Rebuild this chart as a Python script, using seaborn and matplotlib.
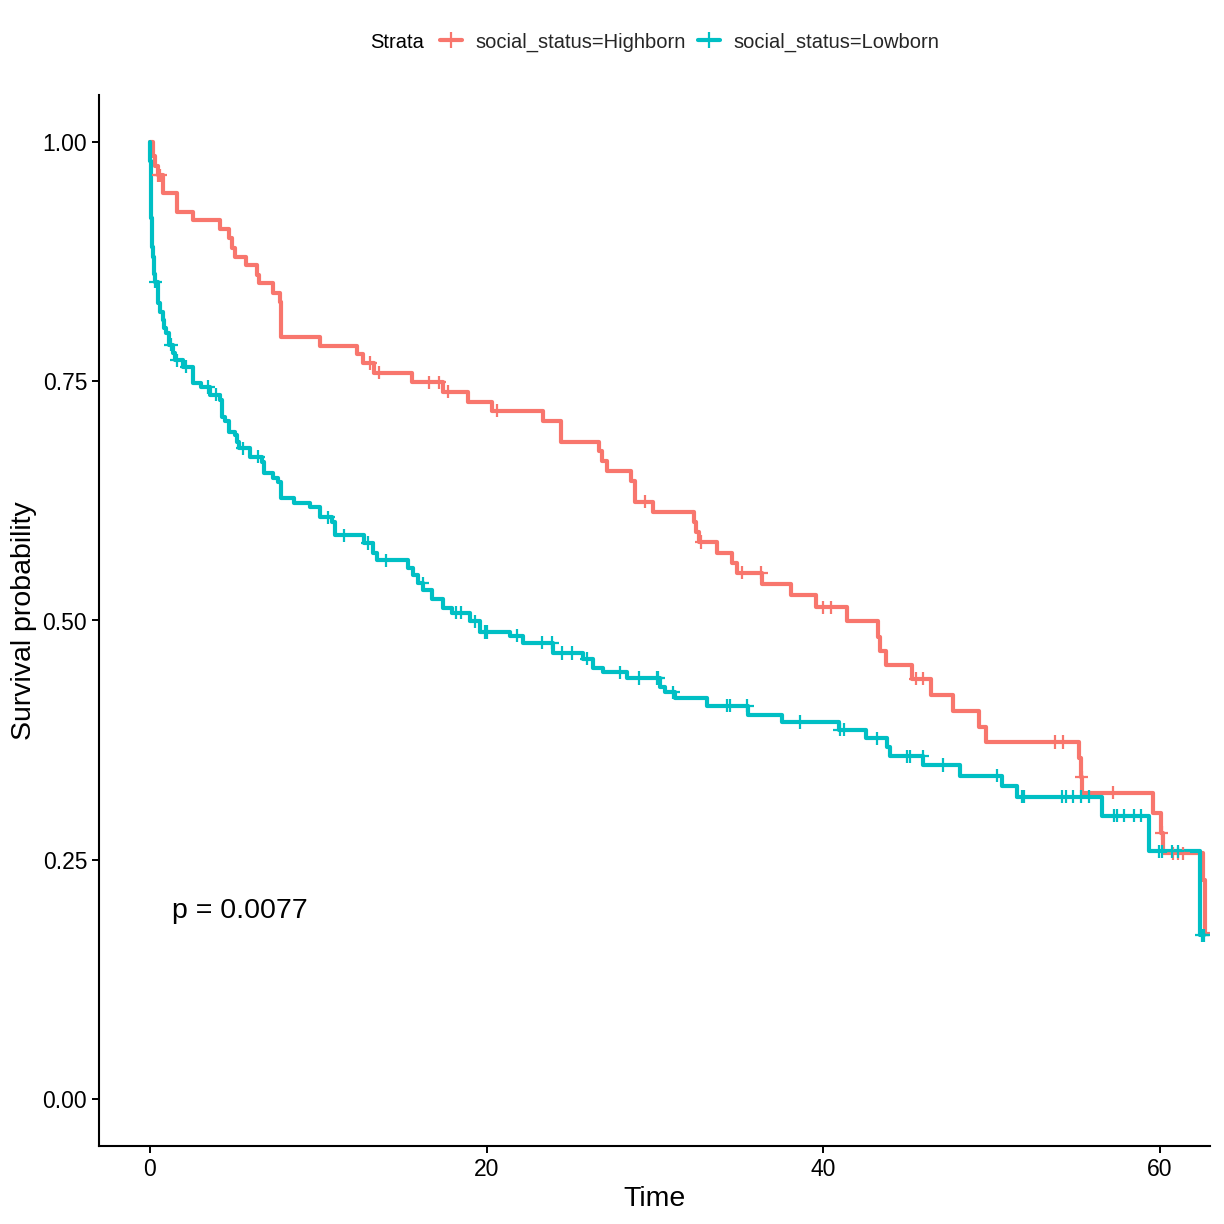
import numpy as np
import pandas as pd
import matplotlib
matplotlib.use("Agg")
import matplotlib.pyplot as plt
from matplotlib.lines import Line2D
import seaborn as sns

# ---------------- data ----------------
high_time = [0.0, 0.15, 0.3, 0.45, 0.75, 1.6, 2.55, 4.16, 4.7, 4.9, 5.05, 5.7, 6.35, 6.45,
             7.3, 7.7, 7.8, 10.1, 12.3, 12.65, 13.3, 15.55, 17.4, 18.9, 20.3, 23.35, 24.4,
             26.7, 26.85, 27.15, 28.6, 28.8, 29.9, 32.3, 32.45, 32.6, 33.7, 34.6, 34.9,
             36.35, 38.1, 39.6, 41.4, 43.25, 43.4, 43.7, 45.3, 46.4, 47.7, 49.25, 49.7,
             55.2, 55.3, 55.4, 59.6, 60.06, 60.2, 62.55, 62.7, 63.2]
high_surv = [1.0, 0.985, 0.975, 0.965, 0.947, 0.927, 0.918, 0.909, 0.900, 0.889, 0.880, 0.871,
             0.861, 0.853, 0.842, 0.833, 0.796, 0.787, 0.778, 0.769, 0.759, 0.749, 0.739,
             0.728, 0.719, 0.708, 0.687, 0.677, 0.667, 0.656, 0.646, 0.624, 0.613, 0.603,
             0.592, 0.582, 0.571, 0.560, 0.550, 0.538, 0.527, 0.514, 0.499, 0.483, 0.468,
             0.453, 0.439, 0.422, 0.405, 0.389, 0.373, 0.356, 0.336, 0.320, 0.299, 0.278,
             0.257, 0.229, 0.172, 0.172]
high_censor = [0.5, 0.6, 13.1, 13.6, 16.6, 17.2, 17.7, 20.6, 29.4, 32.75, 35.2, 36.3, 40.0,
               40.45, 45.5, 45.9, 53.8, 54.25, 55.35, 57.2, 60.1, 60.8, 61.1, 61.4]

low_time = [0.0, 0.02, 0.04, 0.06, 0.08, 0.1, 0.13, 0.17, 0.22, 0.26, 0.28, 0.45, 0.5, 0.6,
            0.77, 0.85, 0.95, 1.1, 1.15, 1.35, 1.5, 1.95, 2.55, 3.05, 3.55, 4.16, 4.28, 4.46,
            4.7, 5.05, 5.17, 5.29, 5.94, 6.65, 6.77, 7.3, 7.6, 7.78, 8.56, 9.5, 10.1, 10.8,
            10.99, 12.7, 13.25, 13.5, 15.3, 15.6, 15.9, 16.25, 16.75, 17.4, 17.95, 19.0,
            19.6, 21.4, 22.15, 23.95, 25.7, 26.3, 26.9, 28.35, 30.3, 30.6, 31.2, 33.1,
            35.55, 37.55, 40.95, 42.55, 43.8, 43.95, 45.95, 48.1, 50.6, 51.5, 56.55,
            59.35, 62.4, 62.65]
low_surv = [1.0, 0.98, 0.96, 0.94, 0.92, 0.905, 0.89, 0.88, 0.87, 0.862, 0.854, 0.845, 0.832,
            0.822, 0.814, 0.806, 0.800, 0.794, 0.788, 0.779, 0.772, 0.765, 0.748, 0.744,
            0.736, 0.730, 0.713, 0.708, 0.697, 0.694, 0.687, 0.680, 0.671, 0.666, 0.654,
            0.649, 0.645, 0.628, 0.623, 0.619, 0.608, 0.603, 0.589, 0.581, 0.571, 0.563,
            0.555, 0.548, 0.539, 0.532, 0.522, 0.513, 0.508, 0.499, 0.488, 0.484, 0.477,
            0.466, 0.460, 0.450, 0.446, 0.440, 0.431, 0.425, 0.419, 0.411, 0.401, 0.394,
            0.386, 0.377, 0.368, 0.358, 0.349, 0.338, 0.327, 0.316, 0.296, 0.259, 0.171,
            0.171]
low_censor = [0.32, 1.25, 1.6, 2.15, 3.45, 3.9, 5.53, 6.42, 10.6, 11.5, 12.95, 14.0, 16.2,
              18.2, 18.5, 19.3, 19.9, 20.0, 21.8, 23.3, 23.9, 24.5, 25.1, 25.95, 27.9, 29.05,
              30.1, 30.2, 31.1, 34.3, 34.45, 35.5, 38.6, 41.0, 41.25, 43.2, 45.0, 45.15, 45.9,
              47.1, 50.3, 51.8, 51.95, 54.2, 54.45, 54.85, 55.3, 55.8, 57.3, 57.45, 57.85,
              58.45, 58.9, 59.95, 60.1, 60.7, 61.05, 62.5, 62.65]

strata_labels = ["social_status=Highborn", "social_status=Lowborn"]
colors = ["#F8766D", "#00BFC4"]
p_text = "p = 0.0077"
x_ticks = [0, 20, 40, 60]
y_ticks = [0.00, 0.25, 0.50, 0.75, 1.00]


def step_at(times, survs, t):
    times = np.asarray(times)
    idx = np.searchsorted(times, t, side="right") - 1
    return np.asarray(survs)[idx]


curve_df = pd.concat([
    pd.DataFrame({"time": high_time, "surv": high_surv, "strata": strata_labels[0]}),
    pd.DataFrame({"time": low_time, "surv": low_surv, "strata": strata_labels[1]}),
], ignore_index=True)
cens_df = pd.concat([
    pd.DataFrame({"time": high_censor, "surv": step_at(high_time, high_surv, high_censor),
                  "strata": strata_labels[0]}),
    pd.DataFrame({"time": low_censor, "surv": step_at(low_time, low_surv, low_censor),
                  "strata": strata_labels[1]}),
], ignore_index=True)

# ---------------- plotting ----------------
sns.set_theme(style="white")
plt.rcParams["font.family"] = ["Liberation Sans", "DejaVu Sans"]

fig = plt.figure(figsize=(12.24, 12.24), dpi=100)
ax = fig.add_axes([99 / 1224, 78 / 1224, (1210 - 99) / 1224, (1146 - 95) / 1224])

pal = dict(zip(strata_labels, colors))
sns.lineplot(data=curve_df, x="time", y="surv", hue="strata", palette=pal,
             drawstyle="steps-post", estimator=None, sort=False, legend=False,
             linewidth=3.0, ax=ax)
sns.scatterplot(data=cens_df, x="time", y="surv", hue="strata", palette=pal,
                marker="+", s=90, linewidth=1.6, legend=False, ax=ax, zorder=3)

ax.set_xlim(-3.03, 62.98)
ax.set_ylim(-0.049, 1.049)
ax.set_xticks(x_ticks)
ax.set_yticks(y_ticks)
ax.set_yticklabels([f"{v:.2f}" for v in y_ticks])
ax.set_xlabel("Time", fontsize=20.5, color="black", labelpad=4)
ax.set_ylabel("Survival probability", fontsize=20.5, color="black", labelpad=4)
ax.tick_params(axis="both", labelsize=16.5, colors="black", length=5, width=1.4,
               direction="out", left=True, bottom=True, pad=3.5)
for s in ["top", "right"]:
    ax.spines[s].set_visible(False)
for s in ["left", "bottom"]:
    ax.spines[s].set_color("black")
    ax.spines[s].set_linewidth(1.5)
ax.grid(False)

ax.text(1.3, 0.197, p_text, fontsize=20.5, ha="left", va="center", color="black")

# legend at top
fig.text(370 / 1224, 1 - 42 / 1224, "Strata", fontsize=14.5, ha="left", va="center",
         color="black")
handles = [Line2D([0], [0], color=c, lw=3.0, marker="+", markersize=11, markeredgewidth=1.6)
           for c in colors]
fig.legend(handles, strata_labels, loc="center left",
           bbox_to_anchor=(440 / 1224, 1 - 42 / 1224), ncol=2, frameon=False,
           fontsize=14.5, handlelength=1.1, handletextpad=0.65, columnspacing=0.6,
           borderaxespad=0, borderpad=0)

fig.savefig("out.png", dpi=100)
